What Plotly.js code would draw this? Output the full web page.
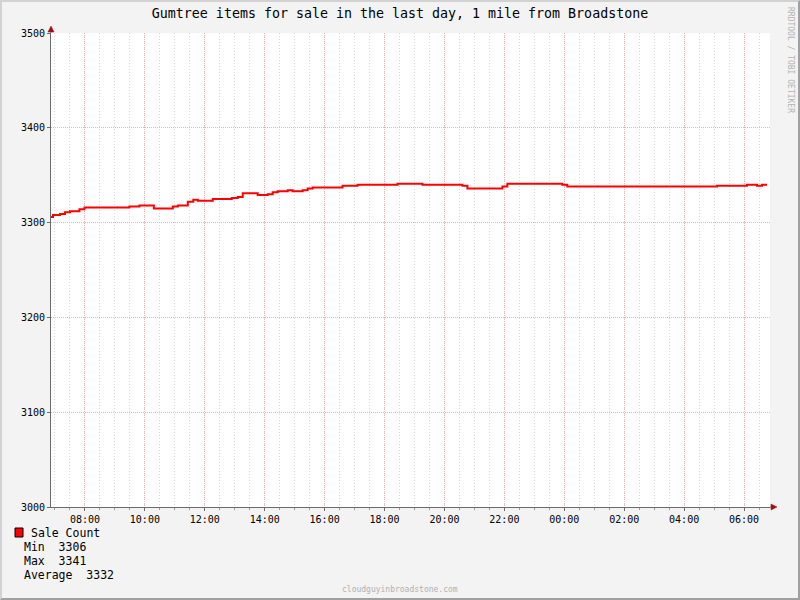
<!DOCTYPE html>
<html>
<head>
<meta charset="utf-8">
<script src="https://cdn.plot.ly/plotly-3.0.1.min.js"></script>
<style>
  html, body { margin: 0; padding: 0; background: #f3f3f3; }
  #frame { box-sizing: border-box; width: 800px; height: 600px;
           border-top: 2px solid #d2d2d2; border-left: 2px solid #d2d2d2;
           border-right: 2px solid #a0a0a0; border-bottom: 2px solid #a0a0a0; }
  #chart { width: 796px; height: 596px; }
</style>
</head>
<body>
<div id="frame"><div id="chart"></div></div>
<script>
// ---- data ----
const stepTimes = [
  "2024-01-01 06:52", "2024-01-01 06:56", "2024-01-01 07:10", "2024-01-01 07:20",
  "2024-01-01 07:30", "2024-01-01 07:49", "2024-01-01 07:59", "2024-01-01 09:29",
  "2024-01-01 09:49", "2024-01-01 10:18", "2024-01-01 10:56", "2024-01-01 11:06",
  "2024-01-01 11:26", "2024-01-01 11:37", "2024-01-01 11:46", "2024-01-01 12:16",
  "2024-01-01 12:54", "2024-01-01 13:06", "2024-01-01 13:16", "2024-01-01 13:46",
  "2024-01-01 14:06", "2024-01-01 14:16", "2024-01-01 14:26", "2024-01-01 14:46",
  "2024-01-01 14:56", "2024-01-01 15:16", "2024-01-01 15:26", "2024-01-01 15:36",
  "2024-01-01 16:36", "2024-01-01 17:06", "2024-01-01 18:26", "2024-01-01 19:16",
  "2024-01-01 20:36", "2024-01-01 20:46", "2024-01-01 21:56", "2024-01-01 22:06",
  "2024-01-01 23:56", "2024-01-02 00:06", "2024-01-02 05:06", "2024-01-02 06:06",
  "2024-01-02 06:26", "2024-01-02 06:36", "2024-01-02 06:46"
];
const saleCounts = [
  3306, 3308, 3309, 3311,
  3312, 3314, 3316, 3317,
  3318, 3315, 3317, 3318,
  3322, 3324, 3323, 3325,
  3326, 3327, 3331, 3329,
  3330, 3332, 3333, 3334,
  3333, 3334, 3336, 3337,
  3339, 3340, 3341, 3340,
  3339, 3336, 3338, 3341,
  3340, 3338, 3339, 3340,
  3339, 3340, 3340
];
const xRange = ["2024-01-01 06:52", "2024-01-02 06:52"];
const yRange = [3000, 3500];
const seriesName = "Sale Count";
const statLabels = ["Min", "Max", "Average"];
const statValues = [3306, 3341, 3332];
const titleText = "Gumtree items for sale in the last day, 1 mile from Broadstone";
const footerText = "cloudguyinbroadstone.com";
const watermarkText = "RRDTOOL / TOBI OETIKER";

// ---- geometry helpers (page pixels -> paper fractions) ----
const PL = 51, PR = 770, PT = 33, PB = 507;
const px = x => (x - PL) / (PR - PL);
const py = y => (PB - y) / (PB - PT);
const MONO = "DejaVu Sans Mono, monospace";
const NB = s => s.replace(/ /g, "\u00a0");

// minor (30 min) grid positions spanning the axis range
const HALF_HOUR = 30 * 60 * 1000;
const minorVals = [];
{
  const t0 = new Date(xRange[0].replace(" ", "T") + "Z").getTime();
  const t1 = new Date(xRange[1].replace(" ", "T") + "Z").getTime();
  for (let t = Math.ceil(t0 / HALF_HOUR) * HALF_HOUR; t <= t1; t += HALF_HOUR) {
    minorVals.push(new Date(t).toISOString().slice(0, 16).replace("T", " "));
  }
}

const trace = {
  x: stepTimes, y: saleCounts, type: "scatter", mode: "lines",
  line: { shape: "hv", color: "#ff0000", width: 2 },
  name: seriesName, hoverinfo: "x+y"
};

const majorGrid = "#f0b4b4", minorGrid = "#dadada";

const annotations = [
  { text: NB(seriesName), x: px(29), y: py(533), xanchor: "left", yanchor: "middle" },
  ...statLabels.map((l, i) => ({
    text: NB(l + "  " + statValues[i]), x: px(22), y: py(547 + 14 * i),
    xanchor: "left", yanchor: "middle"
  }))
].map(a => Object.assign(a, { xref: "paper", yref: "paper", showarrow: false,
  font: { family: MONO, size: 11.5, color: "#000" } }));

annotations.push({ text: footerText, xref: "paper", yref: "paper", x: px(400), y: py(589),
  xanchor: "center", yanchor: "middle", showarrow: false,
  font: { family: MONO, size: 8, color: "#b0b0b0" } });
annotations.push({ text: watermarkText, xref: "paper", yref: "paper", x: px(790), y: py(60),
  xanchor: "center", yanchor: "middle", showarrow: false, textangle: 90,
  font: { family: MONO, size: 8, color: "#b4b4b4" } });

const shapes = [
  // legend swatch
  { type: "rect", xref: "paper", yref: "paper", x0: px(15), x1: px(23), y0: py(537), y1: py(528),
    fillcolor: "#ff0000", line: { color: "#000", width: 1 } },
  // y-axis extension + arrow
  { type: "line", xref: "paper", yref: "paper", xsizemode: "pixel", ysizemode: "pixel",
    xanchor: 0, yanchor: 1, x0: 0, x1: 0, y0: 0, y1: 4, line: { color: "#6b6b6b", width: 1 } },
  { type: "path", xref: "paper", yref: "paper", xsizemode: "pixel", ysizemode: "pixel",
    xanchor: 0, yanchor: 1, path: "M -3 1 L 3 1 L 0 7 Z", fillcolor: "#a01010",
    line: { color: "#a01010", width: 0.5 } },
  // x-axis extension + arrow
  { type: "line", xref: "paper", yref: "paper", xsizemode: "pixel", ysizemode: "pixel",
    xanchor: 1, yanchor: 0, x0: 0, x1: 3, y0: 0, y1: 0, line: { color: "#6b6b6b", width: 1 } },
  { type: "path", xref: "paper", yref: "paper", xsizemode: "pixel", ysizemode: "pixel",
    xanchor: 1, yanchor: 0, path: "M 1 -3 L 1 3 L 7 0 Z", fillcolor: "#a01010",
    line: { color: "#a01010", width: 0.5 } }
];

const layout = {
  width: 796, height: 596,
  margin: { l: PL - 2, r: 798 - PR, t: PT - 2, b: 598 - PB, pad: 0 },
  paper_bgcolor: "#f3f3f3", plot_bgcolor: "#ffffff",
  showlegend: false,
  title: { text: titleText, xref: "container", yref: "container", x: 0.5, y: 1 - 11.5 / 596,
    xanchor: "center", yanchor: "middle", font: { family: MONO, size: 13.3, color: "#000" } },
  xaxis: {
    type: "date", range: xRange, tick0: "2024-01-01 00:00", dtick: 2 * 3600 * 1000,
    tickformat: "%H:%M", showgrid: true, gridcolor: majorGrid, griddash: "1px,1px", gridwidth: 1,
    showline: true, linecolor: "#6b6b6b", linewidth: 1, zeroline: false,
    ticks: "outside", ticklen: 3, tickcolor: "#6b6b6b",
    tickfont: { family: MONO, size: 10, color: "#000" },
    minor: { tickmode: "array", tickvals: minorVals, showgrid: true,
      gridcolor: minorGrid, griddash: "1px,2px", gridwidth: 1,
      ticks: "outside", ticklen: 2, tickcolor: "#9a9a9a" },
    fixedrange: true
  },
  yaxis: {
    range: yRange, dtick: 100, tick0: 3000, showgrid: true, gridcolor: majorGrid,
    griddash: "1px,1px", gridwidth: 1, showline: true, linecolor: "#6b6b6b", linewidth: 1,
    zeroline: false, ticks: "outside", ticklen: 3, tickcolor: "#6b6b6b",
    tickfont: { family: MONO, size: 10, color: "#000" }, fixedrange: true
  },
  annotations: annotations,
  shapes: shapes
};

Plotly.newPlot("chart", [trace], layout, { displayModeBar: false, staticPlot: true });
</script>
</body>
</html>
